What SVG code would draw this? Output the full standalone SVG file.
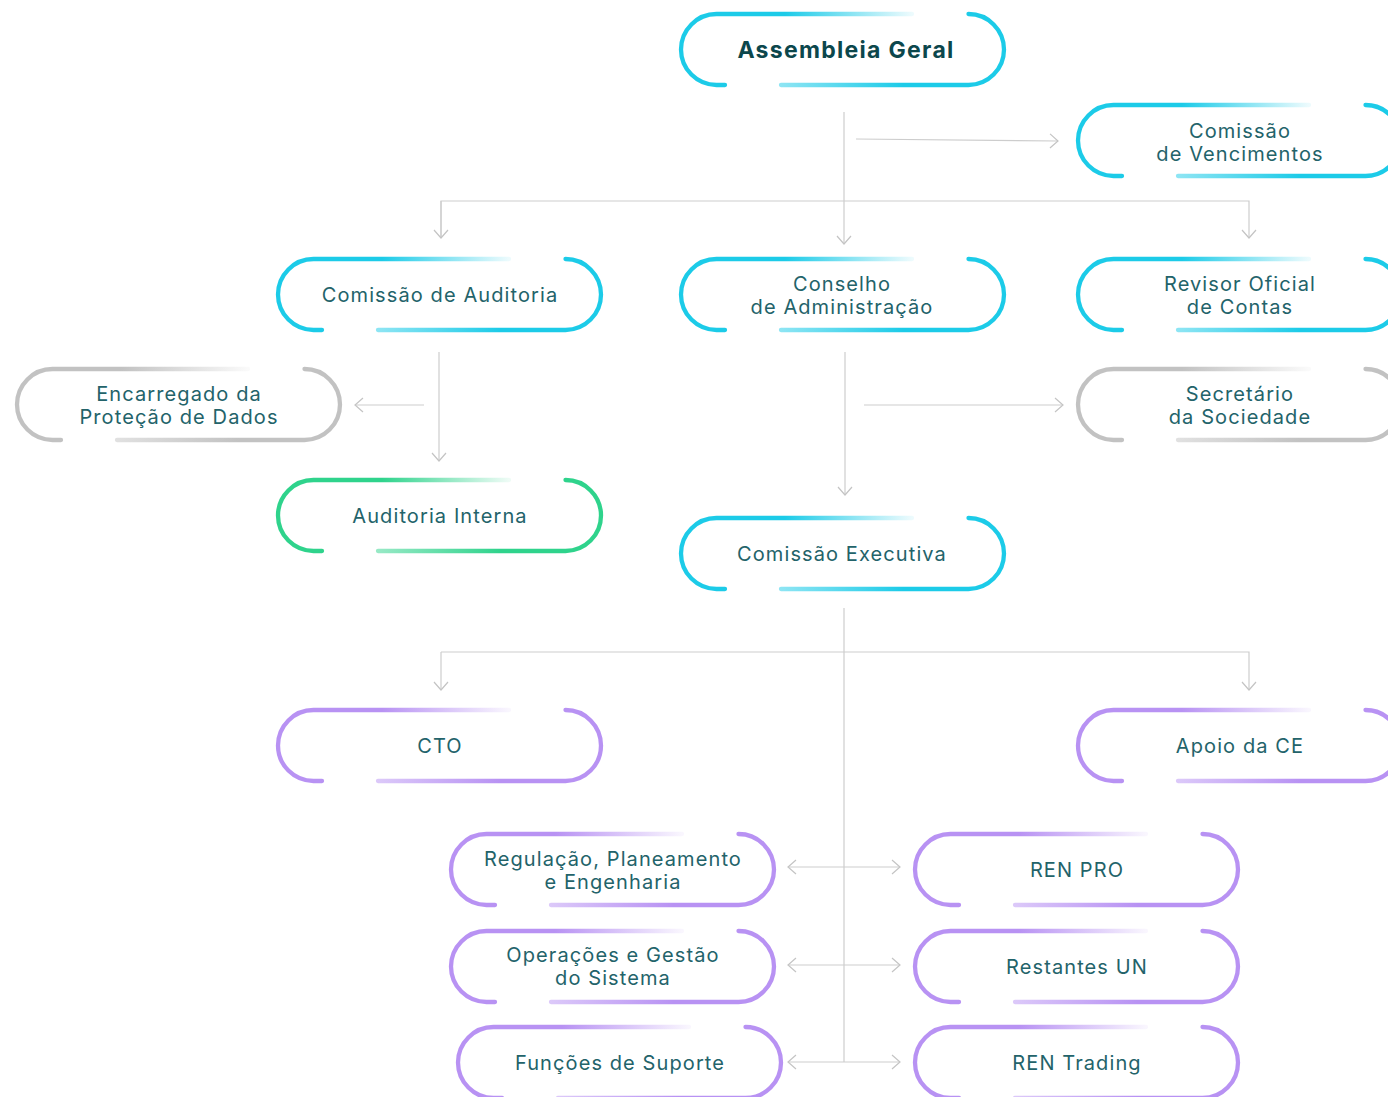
<svg xmlns="http://www.w3.org/2000/svg" xmlns:xlink="http://www.w3.org/1999/xlink" width="1388" height="1097" viewBox="0 0 1388 1097">
<defs>
<style>
.t{font-family:Inter,"Liberation Sans",sans-serif;font-size:20px;fill:#23636a;text-anchor:middle;letter-spacing:1.1px}
.b{font-weight:700;fill:#0c474c;font-size:23px;letter-spacing:1.3px}
.c{fill:none;stroke:#cdcdcd;stroke-width:1.2}
.p{fill:none;stroke-width:4.3;stroke-linecap:round}
</style>
<marker id="ah" viewBox="-10 -8 12 16" markerWidth="12" markerHeight="16" refX="0" refY="0" orient="auto-start-reverse" markerUnits="userSpaceOnUse">
<path d="M-8,-7 L0,0 L-8,7" fill="none" stroke="#c4c4c4" stroke-width="1.2"/>
</marker>
<linearGradient id="cyA" x1="0" y1="0" x2="1" y2="0"><stop offset="0" stop-color="#1ccbe8"/><stop offset="0.45" stop-color="#1ccbe8"/><stop offset="1" stop-color="#1ccbe8" stop-opacity="0.08"/></linearGradient>
<linearGradient id="cyB" x1="1" y1="0" x2="0" y2="0"><stop offset="0" stop-color="#1ccbe8"/><stop offset="0.45" stop-color="#1ccbe8"/><stop offset="1" stop-color="#1ccbe8" stop-opacity="0.5"/></linearGradient>
<linearGradient id="grA" x1="0" y1="0" x2="1" y2="0"><stop offset="0" stop-color="#2fd38c"/><stop offset="0.45" stop-color="#2fd38c"/><stop offset="1" stop-color="#2fd38c" stop-opacity="0.08"/></linearGradient>
<linearGradient id="grB" x1="1" y1="0" x2="0" y2="0"><stop offset="0" stop-color="#2fd38c"/><stop offset="0.45" stop-color="#2fd38c"/><stop offset="1" stop-color="#2fd38c" stop-opacity="0.5"/></linearGradient>
<linearGradient id="gyA" x1="0" y1="0" x2="1" y2="0"><stop offset="0" stop-color="#c2c2c2"/><stop offset="0.45" stop-color="#c2c2c2"/><stop offset="1" stop-color="#c2c2c2" stop-opacity="0.08"/></linearGradient>
<linearGradient id="gyB" x1="1" y1="0" x2="0" y2="0"><stop offset="0" stop-color="#c2c2c2"/><stop offset="0.45" stop-color="#c2c2c2"/><stop offset="1" stop-color="#c2c2c2" stop-opacity="0.5"/></linearGradient>
<linearGradient id="puA" x1="0" y1="0" x2="1" y2="0"><stop offset="0" stop-color="#b892f3"/><stop offset="0.45" stop-color="#b892f3"/><stop offset="1" stop-color="#b892f3" stop-opacity="0.08"/></linearGradient>
<linearGradient id="puB" x1="1" y1="0" x2="0" y2="0"><stop offset="0" stop-color="#b892f3"/><stop offset="0.45" stop-color="#b892f3"/><stop offset="1" stop-color="#b892f3" stop-opacity="0.5"/></linearGradient>
<g id="s-cy"><path class="p" stroke="url(#cyA)" d="M46,73 L37.5,73 A35.5,35.5 0 0 1 37.5,2 L233,2"/><path class="p" stroke="url(#cyB)" d="M289.5,2 A35.5,35.5 0 0 1 289.5,73 L102,73"/></g>
<g id="s-gr"><path class="p" stroke="url(#grA)" d="M46,73 L37.5,73 A35.5,35.5 0 0 1 37.5,2 L233,2"/><path class="p" stroke="url(#grB)" d="M289.5,2 A35.5,35.5 0 0 1 289.5,73 L102,73"/></g>
<g id="s-gy"><path class="p" stroke="url(#gyA)" d="M46,73 L37.5,73 A35.5,35.5 0 0 1 37.5,2 L233,2"/><path class="p" stroke="url(#gyB)" d="M289.5,2 A35.5,35.5 0 0 1 289.5,73 L102,73"/></g>
<g id="s-pu"><path class="p" stroke="url(#puA)" d="M46,73 L37.5,73 A35.5,35.5 0 0 1 37.5,2 L233,2"/><path class="p" stroke="url(#puB)" d="M289.5,2 A35.5,35.5 0 0 1 289.5,73 L102,73"/></g>
</defs>
<rect width="1388" height="1097" fill="#ffffff"/>
<g id="connectors">
<path class="c" d="M844,112 V244" marker-end="url(#ah)"/>
<path class="c" d="M856,139 L1058,141" marker-end="url(#ah)"/>
<path class="c" d="M441,238 V201 H1249 V238" marker-end="url(#ah)"/>
<path class="c" d="M441,201 V238" marker-end="url(#ah)"/>
<path class="c" d="M439,352 V461" marker-end="url(#ah)"/>
<path class="c" d="M424,405 H355" marker-end="url(#ah)"/>
<path class="c" d="M845,352 V495" marker-end="url(#ah)"/>
<path class="c" d="M864,405 H1063" marker-end="url(#ah)"/>
<path class="c" d="M844,608 V1062"/>
<path class="c" d="M441,652 H1249 V690" marker-end="url(#ah)"/>
<path class="c" d="M441,652 V690" marker-end="url(#ah)"/>
<path class="c" d="M788,867 H900" marker-start="url(#ah)" marker-end="url(#ah)"/>
<path class="c" d="M788,965 H900" marker-start="url(#ah)" marker-end="url(#ah)"/>
<path class="c" d="M788,1062 H900" marker-start="url(#ah)" marker-end="url(#ah)"/>
</g>
<g id="n-assembleia"><use href="#s-cy" x="679" y="12"/><text class="t b" x="846" y="58">Assembleia Geral</text></g>
<g id="n-vencimentos"><use href="#s-cy" x="1076" y="103"/><text class="t" x="1240" y="138">Comissão</text><text class="t" x="1240" y="161">de Vencimentos</text></g>
<g id="n-auditoria"><use href="#s-cy" x="276" y="257"/><text class="t" x="440" y="302">Comissão de Auditoria</text></g>
<g id="n-conselho"><use href="#s-cy" x="679" y="257"/><text class="t" x="842" y="291">Conselho</text><text class="t" x="842" y="314">de Administração</text></g>
<g id="n-revisor"><use href="#s-cy" x="1076" y="257"/><text class="t" x="1240" y="291">Revisor Oficial</text><text class="t" x="1240" y="314">de Contas</text></g>
<g id="n-encarregado"><use href="#s-gy" x="15" y="367"/><text class="t" x="179" y="401">Encarregado da</text><text class="t" x="179" y="424">Proteção de Dados</text></g>
<g id="n-secretario"><use href="#s-gy" x="1076" y="367"/><text class="t" x="1240" y="401">Secretário</text><text class="t" x="1240" y="424">da Sociedade</text></g>
<g id="n-auditoria-interna"><use href="#s-gr" x="276" y="478"/><text class="t" x="440" y="523">Auditoria Interna</text></g>
<g id="n-executiva"><use href="#s-cy" x="679" y="516"/><text class="t" x="842" y="561">Comissão Executiva</text></g>
<g id="n-cto"><use href="#s-pu" x="276" y="708"/><text class="t" x="440" y="753">CTO</text></g>
<g id="n-apoio"><use href="#s-pu" x="1076" y="708"/><text class="t" x="1240" y="753">Apoio da CE</text></g>
<g id="n-regulacao"><use href="#s-pu" x="449" y="832"/><text class="t" x="613" y="866">Regulação, Planeamento</text><text class="t" x="613" y="889">e Engenharia</text></g>
<g id="n-renpro"><use href="#s-pu" x="913" y="832"/><text class="t" x="1077" y="877">REN PRO</text></g>
<g id="n-operacoes"><use href="#s-pu" x="449" y="929"/><text class="t" x="613" y="962">Operações e Gestão</text><text class="t" x="613" y="985">do Sistema</text></g>
<g id="n-restantes"><use href="#s-pu" x="913" y="929"/><text class="t" x="1077" y="974">Restantes UN</text></g>
<g id="n-funcoes"><use href="#s-pu" x="456" y="1025"/><text class="t" x="620" y="1070">Funções de Suporte</text></g>
<g id="n-trading"><use href="#s-pu" x="913" y="1025"/><text class="t" x="1077" y="1070">REN Trading</text></g>
</svg>
